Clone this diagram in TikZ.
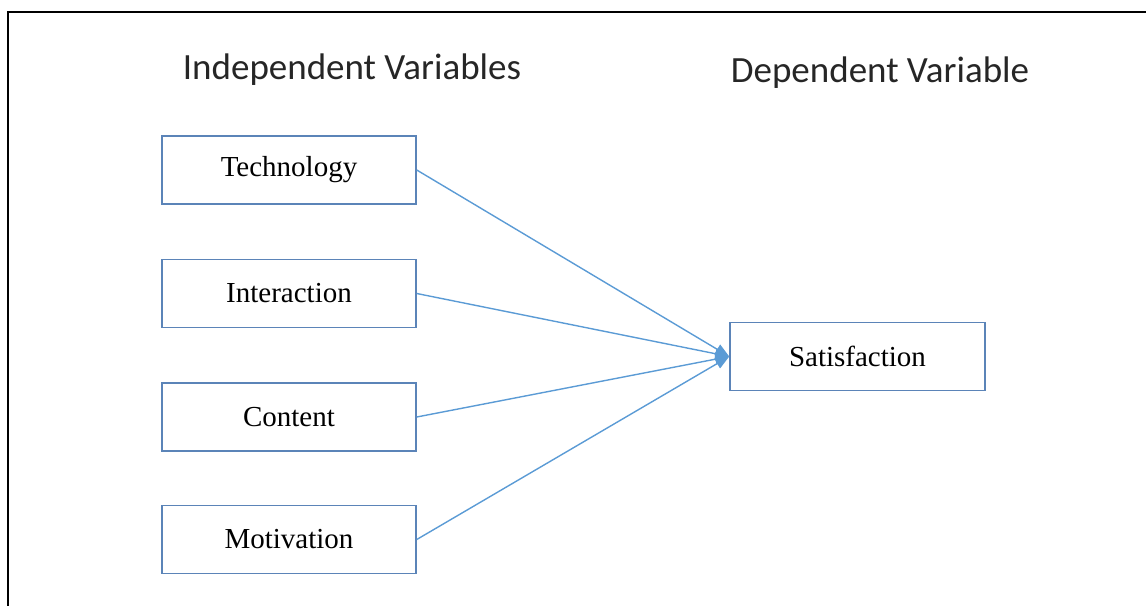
\documentclass[tikz,border=0pt]{standalone}
\usepackage{fontspec}
\setmainfont{Liberation Serif}
\newfontfamily\hdrfont{Carlito}
\usetikzlibrary{arrows.meta}
\definecolor{boxline}{HTML}{5B84B8}
\definecolor{conn}{HTML}{5B9BD5}
\begin{document}
\begin{tikzpicture}[x=1pt,y=-1pt,
  varbox/.style={draw=boxline,line width=1.5pt,minimum width=254pt,minimum height=68pt,inner sep=0pt,font=\fontsize{29}{34}\selectfont},
  hdr/.style={font=\hdrfont\fontsize{37}{42}\selectfont,text=black!85,inner sep=0pt},
  link/.style={draw=conn,line width=1.4pt,-{Triangle[length=14pt,width=11pt]}}]
\useasboundingbox (0,0) rectangle (1146,606);
\draw[line width=2pt] (1146,12) -- (8,12) -- (8,606);
\node[hdr] (h1) at (352,70) {Independent Variables};
\node[hdr] (h2) at (880,73) {Dependent Variable};
\node[varbox] (tech) at (289,170) {Technology};
\node[varbox] (inter) at (289,293.5) {Interaction};
\node[varbox] (cont) at (289,417) {Content};
\node[varbox] (mot) at (289,539.5) {Motivation};
\node[varbox,minimum width=255pt] (sat) at (857.5,356.5) {Satisfaction};
\draw[link] (tech.east) -- (sat.west);
\draw[link] (inter.east) -- (sat.west);
\draw[link] (cont.east) -- (sat.west);
\draw[link] (mot.east) -- (sat.west);
\end{tikzpicture}
\end{document}
